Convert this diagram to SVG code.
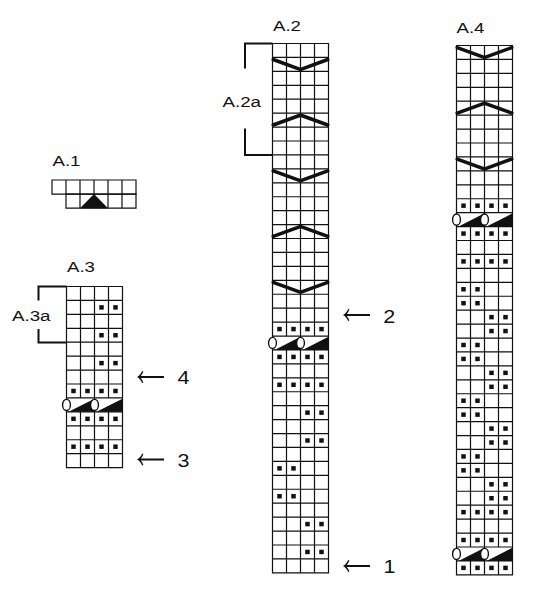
<svg xmlns="http://www.w3.org/2000/svg" width="543" height="600" viewBox="0 0 543 600">
<style>
.grid{fill:none;stroke:#111;stroke-width:1.2}
.grid *{vector-effect:non-scaling-stroke}
.dot{fill:#111}
.chev{fill:none;stroke:#111;stroke-width:3.5;stroke-linecap:round;vector-effect:non-scaling-stroke}
.wedge{fill:#111}
.yo{fill:#fff;stroke:#111;stroke-width:1.4;vector-effect:non-scaling-stroke}
.tri{fill:#111}
.lbl{font-family:"Liberation Sans",Arial,sans-serif;font-size:15.5px;fill:#111}
.num{font-family:"Liberation Sans",Arial,sans-serif;font-size:18.5px;fill:#111}
.brk{fill:none;stroke:#111;stroke-width:2}
.arr{fill:#111}
</style>
<defs>
<g id="d12"><rect class="dot" x=".34" y=".34" width=".32" height=".32"/><rect class="dot" x="1.34" y=".34" width=".32" height=".32"/></g>
<g id="d34"><rect class="dot" x="2.34" y=".34" width=".32" height=".32"/><rect class="dot" x="3.34" y=".34" width=".32" height=".32"/></g>
<g id="d4"><use href="#d12"/><use href="#d34"/></g>
<g id="V"><path class="chev" d="M0.05,.15 L1.97,.85 M2.03,.85 L3.95,.15"/></g>
<g id="L"><path class="chev" d="M0.05,.85 L1.97,.15 M2.03,.15 L3.95,.85"/></g>
<g id="yo"><path class="wedge" d="M.15,1 L2,.05 V1 Z M2.15,1 L4,.05 V1 Z"/><ellipse class="yo" cx="0" cy=".5" rx=".28" ry=".4"/><ellipse class="yo" cx="2" cy=".5" rx=".28" ry=".4"/></g>
<path id="arr" class="arr" d="M0,0 C2.2,-1.3 4.2,-3.4 5.2,-6 L6.4,-5.4 C5.7,-3.6 4.8,-2.1 3.9,-1 H27 V1 H3.9 C4.8,2.1 5.7,3.6 6.4,5.4 L5.2,6 C4.2,3.4 2.2,1.3 0,0 Z"/>
</defs>

<g id="chart-A1">
<text class="lbl" x="52.5" y="166" textLength="28" lengthAdjust="spacingAndGlyphs">A.1</text>
<g transform="translate(52,180) scale(14,14.1)">
<g class="grid">
<rect x="0" y="0" width="6" height="1"/>
<rect x="1" y="1" width="5" height="1"/>
<path d="M1,0V1M2,0V2M3,0V1M4,0V2M5,0V2"/>
</g>
<polygon class="tri" points="2,2 3,1 4,2"/>
</g>
</g>

<g id="chart-A3">
<text class="lbl" x="67" y="271.7" textLength="28" lengthAdjust="spacingAndGlyphs">A.3</text>
<text class="lbl" x="12" y="320.7" textLength="38.5" lengthAdjust="spacingAndGlyphs">A.3a</text>
<path class="brk" d="M66.5,286.5 H38.5 V300.5 M38.5,329 V342.5 H66.5"/>
<g transform="translate(66.5,286.5) scale(14,13.93)">
<g class="grid">
<rect x="0" y="0" width="4" height="13"/>
<path d="M0,1H4M0,2H4M0,3H4M0,4H4M0,5H4M0,6H4M0,7H4M0,8H4M0,9H4M0,10H4M0,11H4M0,12H4"/>
<path d="M1,0V8M1,9V13M2,0V13M3,0V8M3,9V13"/>
</g>
<use href="#d34" y="1"/>
<use href="#d34" y="3"/>
<use href="#d34" y="5"/>
<use href="#d4" y="7"/>
<use href="#yo" y="8"/>
<use href="#d4" y="9"/>
<use href="#d4" y="11"/>
</g>
</g>

<g id="chart-A2">
<text class="lbl" x="273" y="30.5" textLength="28" lengthAdjust="spacingAndGlyphs">A.2</text>
<text class="lbl" x="222.5" y="106.7" textLength="38.5" lengthAdjust="spacingAndGlyphs">A.2a</text>
<path class="brk" d="M272.5,43.5 H245 V68.5 M245,128.5 V155 H272.5"/>
<g transform="translate(272.5,43.5) scale(14,13.93)">
<g class="grid">
<rect x="0" y="0" width="4" height="38"/>
<path d="M0,1H4M0,2H4M0,3H4M0,4H4M0,5H4M0,6H4M0,7H4M0,8H4M0,9H4M0,10H4M0,11H4M0,12H4M0,13H4M0,14H4M0,15H4M0,16H4M0,17H4M0,18H4M0,19H4M0,20H4M0,21H4M0,22H4M0,23H4M0,24H4M0,25H4M0,26H4M0,27H4M0,28H4M0,29H4M0,30H4M0,31H4M0,32H4M0,33H4M0,34H4M0,35H4M0,36H4M0,37H4"/>
<path d="M1,0V21M1,22V38M2,0V38M3,0V21M3,22V38"/>
</g>
<use href="#V" y="1"/>
<use href="#L" y="5"/>
<use href="#V" y="9"/>
<use href="#L" y="13"/>
<use href="#V" y="17"/>
<use href="#d4" y="20"/>
<use href="#yo" y="21"/>
<use href="#d4" y="22"/>
<use href="#d4" y="24"/>
<use href="#d34" y="26"/>
<use href="#d34" y="28"/>
<use href="#d12" y="30"/>
<use href="#d12" y="32"/>
<use href="#d34" y="34"/>
<use href="#d34" y="36"/>
</g>
</g>

<g id="chart-A4">
<text class="lbl" x="456.5" y="32.7" textLength="28" lengthAdjust="spacingAndGlyphs">A.4</text>
<g transform="translate(456.5,45.5) scale(14,13.93)">
<g class="grid">
<rect x="0" y="0" width="4" height="38"/>
<path d="M0,1H4M0,2H4M0,3H4M0,4H4M0,5H4M0,6H4M0,7H4M0,8H4M0,9H4M0,10H4M0,11H4M0,12H4M0,13H4M0,14H4M0,15H4M0,16H4M0,17H4M0,18H4M0,19H4M0,20H4M0,21H4M0,22H4M0,23H4M0,24H4M0,25H4M0,26H4M0,27H4M0,28H4M0,29H4M0,30H4M0,31H4M0,32H4M0,33H4M0,34H4M0,35H4M0,36H4M0,37H4"/>
<path d="M1,0V12M1,13V36M1,37V38M2,0V38M3,0V12M3,13V36M3,37V38"/>
</g>
<use href="#V" y="0"/>
<use href="#L" y="4"/>
<use href="#V" y="8"/>
<use href="#d4" y="11"/>
<use href="#yo" y="12"/>
<use href="#d4" y="13"/>
<use href="#d4" y="15"/>
<use href="#d12" y="17"/>
<use href="#d12" y="18"/>
<use href="#d34" y="19"/>
<use href="#d34" y="20"/>
<use href="#d12" y="21"/>
<use href="#d12" y="22"/>
<use href="#d34" y="23"/>
<use href="#d34" y="24"/>
<use href="#d12" y="25"/>
<use href="#d12" y="26"/>
<use href="#d34" y="27"/>
<use href="#d34" y="28"/>
<use href="#d12" y="29"/>
<use href="#d12" y="30"/>
<use href="#d34" y="31"/>
<use href="#d34" y="32"/>
<use href="#d4" y="33"/>
<use href="#d4" y="35"/>
<use href="#yo" y="36"/>
<use href="#d4" y="37"/>
</g>
</g>

<g id="connectors">
<use href="#arr" x="343" y="315"/>
<use href="#arr" x="343" y="566"/>
<use href="#arr" x="137" y="377"/>
<use href="#arr" x="137" y="459.5"/>
</g>

<g id="row-numbers">
<text class="num" x="383.3" y="322.7" textLength="12" lengthAdjust="spacingAndGlyphs">2</text>
<text class="num" x="383.5" y="573" textLength="12" lengthAdjust="spacingAndGlyphs">1</text>
<text class="num" x="177.5" y="383.5" textLength="12" lengthAdjust="spacingAndGlyphs">4</text>
<text class="num" x="177.5" y="467" textLength="12" lengthAdjust="spacingAndGlyphs">3</text>
</g>
</svg>
